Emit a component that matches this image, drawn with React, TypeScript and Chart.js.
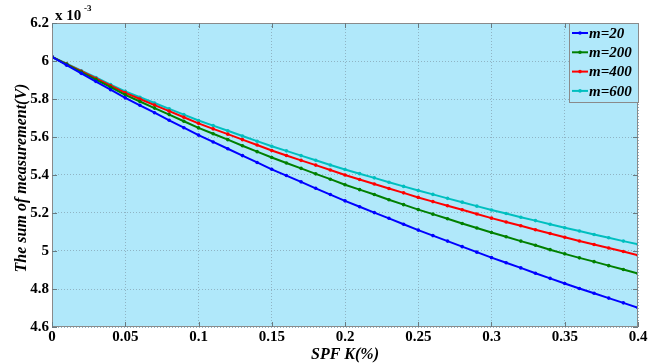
import React, { useEffect, useRef } from "react";
import { Chart, registerables } from "chart.js";

Chart.register(...registerables);

const xValues = [
  0, 0.01, 0.02, 0.03, 0.04, 0.05, 0.06, 0.07, 0.08, 0.09, 0.1, 0.11, 0.12, 0.13, 0.14, 0.15,
  0.16, 0.17, 0.18, 0.19, 0.2, 0.21, 0.22, 0.23, 0.24, 0.25, 0.26, 0.27, 0.28, 0.29, 0.3,
  0.31, 0.32, 0.33, 0.34, 0.35, 0.36, 0.37, 0.38, 0.39, 0.4,
];

const m20 = [
  6.022, 5.978, 5.935, 5.892, 5.849, 5.806, 5.767, 5.728, 5.688, 5.649, 5.61, 5.574, 5.538,
  5.502, 5.466, 5.43, 5.397, 5.364, 5.33, 5.297, 5.264, 5.233, 5.202, 5.172, 5.141, 5.11,
  5.081, 5.052, 5.023, 4.994, 4.965, 4.938, 4.911, 4.883, 4.856, 4.829, 4.803, 4.778, 4.752,
  4.727, 4.701,
];
const m200 = [
  6.022, 5.982, 5.942, 5.902, 5.862, 5.822, 5.787, 5.752, 5.718, 5.683, 5.648, 5.617, 5.586,
  5.554, 5.523, 5.492, 5.463, 5.435, 5.406, 5.378, 5.349, 5.323, 5.297, 5.27, 5.244, 5.218,
  5.194, 5.17, 5.145, 5.121, 5.097, 5.075, 5.052, 5.03, 5.007, 4.985, 4.964, 4.944, 4.923,
  4.903, 4.882,
];
const m400 = [
  6.022, 5.984, 5.946, 5.908, 5.87, 5.832, 5.8, 5.768, 5.736, 5.704, 5.672, 5.643, 5.615,
  5.586, 5.558, 5.529, 5.503, 5.477, 5.452, 5.426, 5.4, 5.376, 5.353, 5.329, 5.306, 5.282,
  5.26, 5.238, 5.217, 5.195, 5.173, 5.153, 5.133, 5.112, 5.092, 5.072, 5.053, 5.034, 5.016,
  4.997, 4.978,
];
const m600 = [
  6.022, 5.986, 5.949, 5.913, 5.876, 5.84, 5.809, 5.779, 5.748, 5.718, 5.687, 5.66, 5.633,
  5.605, 5.578, 5.551, 5.527, 5.502, 5.478, 5.453, 5.429, 5.407, 5.385, 5.362, 5.34, 5.318,
  5.298, 5.277, 5.257, 5.236, 5.216, 5.197, 5.178, 5.16, 5.141, 5.122, 5.105, 5.087, 5.07,
  5.052, 5.035,
];

const seriesLabels = ["m=20", "m=200", "m=400", "m=600"];
const seriesColors = ["#0000ff", "#008000", "#ff0000", "#00bfbf"];
const seriesValues = [m20, m200, m400, m600];

const xTickLabels = ["0", "0.05", "0.1", "0.15", "0.2", "0.25", "0.3", "0.35", "0.4"];
const yTickLabels = ["4.6", "4.8", "5", "5.2", "5.4", "5.6", "5.8", "6", "6.2"];

const xTitle = "SPF K(%)";
const yTitle = "The sum of measurement(V)";

const SERIF = "'Liberation Serif', 'Times New Roman', serif";

const decorPlugin = {
  id: "decor",
  beforeDraw(chart: any) {
    const { ctx, chartArea } = chart;
    ctx.save();
    ctx.fillStyle = "#b0e8fa";
    ctx.fillRect(chartArea.left, chartArea.top, chartArea.right - chartArea.left, chartArea.bottom - chartArea.top);
    ctx.restore();
  },
  afterDraw(chart: any) {
    const { ctx, chartArea, scales } = chart;
    ctx.save();
    // plot border
    ctx.strokeStyle = "#8a8a8a";
    ctx.lineWidth = 1;
    ctx.strokeRect(chartArea.left + 0.5, chartArea.top + 0.5, chartArea.right - chartArea.left - 1, chartArea.bottom - chartArea.top - 1);

    // inward tick marks
    ctx.strokeStyle = "#6a7a80";
    ctx.beginPath();
    xTickLabels.forEach((t) => {
      const px = Math.round(scales.x.getPixelForValue(parseFloat(t))) + 0.5;
      ctx.moveTo(px, chartArea.bottom);
      ctx.lineTo(px, chartArea.bottom - 5);
      ctx.moveTo(px, chartArea.top);
      ctx.lineTo(px, chartArea.top + 5);
    });
    yTickLabels.forEach((t) => {
      const py = Math.round(scales.y.getPixelForValue(parseFloat(t))) + 0.5;
      ctx.moveTo(chartArea.left, py);
      ctx.lineTo(chartArea.left + 5, py);
      ctx.moveTo(chartArea.right, py);
      ctx.lineTo(chartArea.right - 5, py);
    });
    ctx.stroke();

    // exponent label
    ctx.fillStyle = "#000";
    ctx.textBaseline = "alphabetic";
    ctx.textAlign = "left";
    ctx.font = `bold 15px ${SERIF}`;
    ctx.fillText("x 10", chartArea.left + 3, chartArea.top - 3);
    ctx.font = `bold 9px ${SERIF}`;
    ctx.fillText("-3", chartArea.left + 32, chartArea.top - 12);

    // axis titles
    ctx.font = `italic bold 16px ${SERIF}`;
    ctx.textAlign = "center";
    ctx.fillText(xTitle, (chartArea.left + chartArea.right) / 2, 359);
    ctx.save();
    ctx.translate(26, 178);
    ctx.rotate(-Math.PI / 2);
    ctx.fillText(yTitle, 0, 0);
    ctx.restore();

    // legend
    const lx = chartArea.right - 69;
    const ly = chartArea.top;
    const lw = 69;
    const lh = 79;
    ctx.fillStyle = "#b0e8fa";
    ctx.fillRect(lx, ly, lw, lh);
    ctx.strokeStyle = "#8a8a8a";
    ctx.lineWidth = 1;
    ctx.strokeRect(lx + 0.5, ly + 0.5, lw, lh);
    ctx.font = `italic bold 15px ${SERIF}`;
    ctx.textAlign = "left";
    ctx.textBaseline = "middle";
    seriesLabels.forEach((lab, i) => {
      const y = ly + 10 + i * 19.3;
      ctx.strokeStyle = seriesColors[i];
      ctx.lineWidth = 2;
      ctx.beginPath();
      ctx.moveTo(lx + 3, y);
      ctx.lineTo(lx + 19, y);
      ctx.stroke();
      ctx.fillStyle = seriesColors[i];
      ctx.beginPath();
      ctx.arc(lx + 11, y, 1.8, 0, Math.PI * 2);
      ctx.fill();
      ctx.fillStyle = "#000";
      ctx.fillText(lab, lx + 20, y + 1);
    });
    ctx.restore();
  },
};

export default function App() {
  const canvasRef = useRef<HTMLCanvasElement | null>(null);

  useEffect(() => {
    if (!canvasRef.current) return;
    const chart = new Chart(canvasRef.current, {
      type: "line",
      data: {
        datasets: seriesValues.map((vals, i) => ({
          label: seriesLabels[i],
          data: vals.map((v, j) => ({ x: xValues[j], y: v })),
          borderColor: seriesColors[i],
          backgroundColor: seriesColors[i],
          borderWidth: 2,
          pointRadius: 1.8,
          pointStyle: "circle",
          pointBorderWidth: 0,
          tension: 0,
        })),
      },
      options: {
        responsive: false,
        animation: false,
        layout: { padding: { top: 23, right: 23, left: 0, bottom: 0 } },
        plugins: {
          legend: { display: false },
          tooltip: { enabled: false },
          title: { display: false },
        },
        scales: {
          x: {
            type: "linear",
            min: 0,
            max: 0.4,
            afterBuildTicks: (scale: any) => {
              scale.ticks = xTickLabels.map((t) => ({ value: parseFloat(t) }));
            },
            afterFit: (scale: any) => {
              scale.height = 37;
            },
            ticks: {
              callback: (v: any) => {
                const idx = xTickLabels.findIndex((t) => Math.abs(parseFloat(t) - v) < 1e-9);
                return idx >= 0 ? xTickLabels[idx] : "";
              },
              color: "#000",
              font: { family: SERIF, weight: "bold", size: 15 },
              padding: 1,
              maxRotation: 0,
              autoSkip: false,
            },
            grid: {
              color: "#8fb4c4",
              drawTicks: false,
            },
            border: { display: false, dash: [1, 2] },
          },
          y: {
            type: "linear",
            min: 4.6,
            max: 6.2,
            afterBuildTicks: (scale: any) => {
              scale.ticks = yTickLabels.map((t) => ({ value: parseFloat(t) }));
            },
            afterFit: (scale: any) => {
              scale.width = 52;
            },
            ticks: {
              callback: (v: any) => {
                const idx = yTickLabels.findIndex((t) => Math.abs(parseFloat(t) - v) < 1e-9);
                return idx >= 0 ? yTickLabels[idx] : "";
              },
              color: "#000",
              font: { family: SERIF, weight: "bold", size: 15 },
              padding: 3,
              autoSkip: false,
            },
            grid: {
              color: "#8fb4c4",
              drawTicks: false,
            },
            border: { display: false, dash: [1, 2] },
          },
        },
      } as any,
      plugins: [decorPlugin],
    });
    return () => chart.destroy();
  }, []);

  return (
    <div style={{ position: "fixed", left: 0, top: 0, width: 661, height: 364, background: "#fff" }}>
      <canvas ref={canvasRef} width={661} height={364} style={{ width: 661, height: 364, display: "block" }} />
    </div>
  );
}
